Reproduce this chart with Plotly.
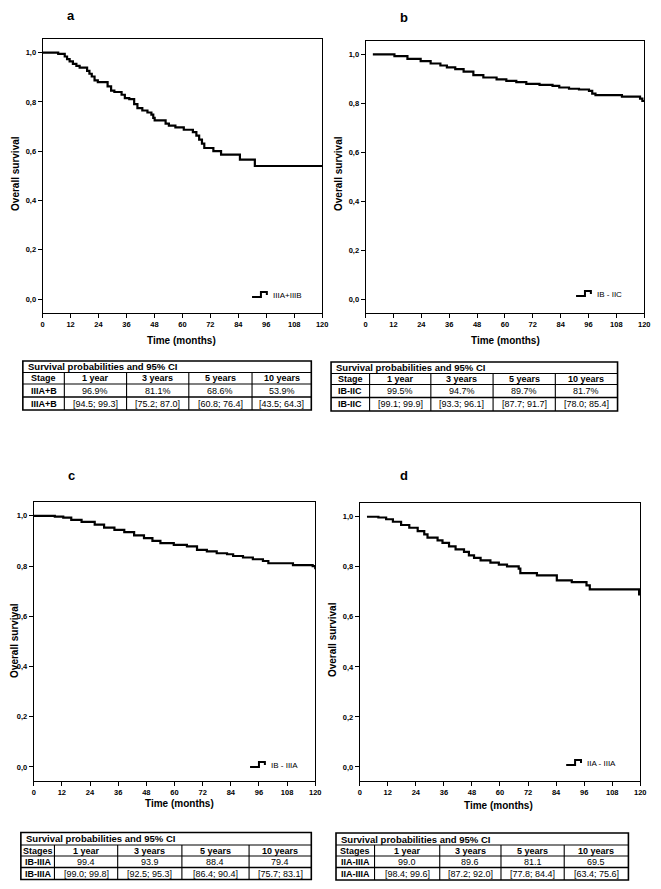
import plotly.graph_objects as go

W, H = 661, 889

# ---------------- data ----------------
months_a = [0, 6.7, 9.5, 10.5, 11.6, 13.0, 14.5, 15.9, 19.1, 20.1, 21.1, 22.3, 23.7, 27.9, 29.4, 30.8,
            33.9, 35.3, 37.2, 39.3, 40.7, 42.8, 45.0, 46.7, 47.5, 48.1, 52.8, 54.2, 57.0, 60.6, 64.5,
            66.0, 67.2, 68.4, 69.4, 73.3, 76.6, 84.7, 91.1, 120]
surv_a = [1.0, 0.995, 0.984, 0.973, 0.964, 0.954, 0.946, 0.939, 0.926, 0.914, 0.903, 0.887, 0.880,
          0.863, 0.846, 0.840, 0.829, 0.815, 0.811, 0.791, 0.775, 0.765, 0.757, 0.748, 0.735, 0.725,
          0.712, 0.704, 0.697, 0.687, 0.677, 0.663, 0.647, 0.631, 0.613, 0.600, 0.586, 0.566, 0.540, 0.540]

months_b = [3.1, 7.4, 12.4, 18.0, 23.7, 28.0, 32.2, 35.0, 38.6, 42.2, 46.4, 50.7, 56.4, 60.6, 64.9,
            69.2, 74.9, 80.5, 83.4, 87.6, 91.9, 96.2, 97.6, 99.0, 110.4, 118.2, 119.2, 120]
surv_b = [1.0, 1.0, 0.993, 0.982, 0.973, 0.963, 0.955, 0.947, 0.940, 0.930, 0.916, 0.906, 0.898, 0.892,
          0.887, 0.880, 0.876, 0.872, 0.865, 0.860, 0.857, 0.851, 0.840, 0.834, 0.828, 0.820, 0.810, 0.810]

months_c = [0, 5, 9, 12.6, 16, 20.4, 26, 30, 34.4, 38.6, 42.8, 47, 50.6, 54, 59.7, 65.3, 69.6, 73.8,
            78, 82.4, 85, 89.2, 93.4, 97.7, 100, 110.5, 118.9, 120]
surv_c = [1.0, 1.0, 0.997, 0.993, 0.984, 0.976, 0.965, 0.953, 0.944, 0.935, 0.922, 0.911, 0.900, 0.891,
          0.884, 0.878, 0.864, 0.858, 0.851, 0.847, 0.840, 0.834, 0.827, 0.820, 0.811, 0.804, 0.800, 0.787]

months_d = [3.1, 8, 11.3, 14.2, 17.7, 21.2, 24.8, 27.6, 29, 33.3, 35.4, 38.2, 41, 44.6, 46.7, 48.9,
            51.7, 55.9, 59.5, 63, 68, 68.7, 75.8, 84.3, 90.7, 97, 98.4, 119.5, 120]
surv_d = [1.0, 0.997, 0.99, 0.98, 0.967, 0.956, 0.943, 0.930, 0.917, 0.906, 0.896, 0.882, 0.870, 0.860,
          0.846, 0.836, 0.826, 0.817, 0.809, 0.802, 0.793, 0.775, 0.766, 0.746, 0.739, 0.726, 0.710,
          0.690, 0.690]

x_tick_vals = [0, 12, 24, 36, 48, 60, 72, 84, 96, 108, 120]
x_tick_text = ["0", "12", "24", "36", "48", "60", "72", "84", "96", "108", "120"]
y_tick_vals = [0.0, 0.2, 0.4, 0.6, 0.8, 1.0]
y_tick_text = ["0,0", "0,2", "0,4", "0,6", "0,8", "1,0"]

panel_letters = ["a", "b", "c", "d"]
legend_labels = ["IIIA+IIIB", "IB - IIC", "IB - IIIA", "IIA - IIIA"]
y_title = "Overall survival"
x_title = "Time (months)"

table_title = "Survival probabilities and 95% CI"
table_header_ab = ["Stage", "1 year", "3 years", "5 years", "10 years"]
table_header_cd = ["Stages", "1 year", "3 years", "5 years", "10 years"]
table_rows_a = [["IIIA+B", "96.9%", "81.1%", "68.6%", "53.9%"],
                ["IIIA+B", "[94.5; 99.3]", "[75.2; 87.0]", "[60.8; 76.4]", "[43.5; 64.3]"]]
table_rows_b = [["IB-IIC", "99.5%", "94.7%", "89.7%", "81.7%"],
                ["IB-IIC", "[99.1; 99.9]", "[93.3; 96.1]", "[87.7; 91.7]", "[78.0; 85.4]"]]
table_rows_c = [["IB-IIIA", "99.4", "93.9", "88.4", "79.4"],
                ["IB-IIIA", "[99.0; 99.8]", "[92.5; 95.3]", "[86.4; 90.4]", "[75.7; 83.1]"]]
table_rows_d = [["IIA-IIIA", "99.0", "89.6", "81.1", "69.5"],
                ["IIA-IIIA", "[98.4; 99.6]", "[87.2; 92.0]", "[77.8; 84.4]", "[63.4; 75.6]"]]

# ---------------- layout helpers (pixel positions on the page) ----------------
OFF = 8  # default body margin of the page


def X(p):
    return (p - OFF) / W


def Y(p):
    return 1 - (p - OFF) / H


FONT = "Liberation Sans, Arial, sans-serif"

panels = [
    dict(months=months_a, surv=surv_a, box=(41, 324, 39, 313), letter=(70, 16),
         ytit=(13, 173), xtit=(182, 340), leg=(253, 297),
         table=table_rows_a, header=table_header_ab,
         tx=[21, 63, 126, 189, 253, 313], ty=[361, 372.5, 384, 397, 410]),
    dict(months=months_b, surv=surv_b, box=(368, 650, 41, 313), letter=(407, 17),
         ytit=(340, 173), xtit=(510, 340), leg=(581, 296),
         table=table_rows_b, header=table_header_ab,
         tx=[333, 372, 434, 497, 560, 623], ty=[362, 373.5, 384.5, 397.5, 411]),
    dict(months=months_c, surv=surv_c, box=(32, 317, 502, 781), letter=(70, 475),
         ytit=(12, 640), xtit=(180, 803), leg=(251, 767),
         table=table_rows_c, header=table_header_cd,
         tx=[19, 53, 117, 182, 250, 313], ty=[832.5, 845, 856, 867.5, 879.5]),
    dict(months=months_d, surv=surv_d, box=(362, 646, 503, 781), letter=(407, 475),
         ytit=(334, 640), xtit=(502, 805), leg=(571, 765),
         table=table_rows_d, header=table_header_cd,
         tx=[338, 377, 443, 505, 569, 634], ty=[833, 845, 856, 867.5, 880]),
]

fig = go.Figure()
annotations = []
shapes = []

for i, p in enumerate(panels):
    n = "" if i == 0 else str(i + 1)
    fig.add_trace(go.Scatter(
        x=p["months"], y=p["surv"], mode="lines", line_shape="hv",
        line=dict(color="black", width=2.2), xaxis="x" + n, yaxis="y" + n,
        showlegend=False, hoverinfo="skip"))
    x0, x1, y0, y1 = p["box"]
    axis_common = dict(showline=True, mirror=True, linecolor="black", linewidth=1,
                       ticks="outside", ticklen=4, tickwidth=1, tickcolor="black",
                       showgrid=False, zeroline=False,
                       tickfont=dict(family=FONT, size=7.5, color="black", weight="bold"))
    fig.update_layout(**{
        "xaxis" + n: dict(domain=[X(x0), X(x1)], range=[0, 120], tickvals=x_tick_vals,
                          ticktext=x_tick_text, anchor="y" + n, **axis_common),
        "yaxis" + n: dict(domain=[Y(y1), Y(y0)], range=[-0.056, 1.055], tickvals=y_tick_vals,
                          ticktext=y_tick_text, anchor="x" + n, **axis_common),
    })
    # panel letter
    lx, ly = p["letter"]
    annotations.append(dict(x=X(lx), y=Y(ly), xref="paper", yref="paper", text=panel_letters[i],
                            showarrow=False, xanchor="center", yanchor="middle", borderpad=0,
                            font=dict(family=FONT, size=13, color="black", weight="bold")))
    # axis titles
    tx_, ty_ = p["ytit"]
    annotations.append(dict(x=X(tx_), y=Y(ty_), xref="paper", yref="paper", text=y_title,
                            textangle=-90, showarrow=False, xanchor="center", yanchor="middle",
                            font=dict(family=FONT, size=10, color="black", weight="bold")))
    tx_, ty_ = p["xtit"]
    annotations.append(dict(x=X(tx_), y=Y(ty_), xref="paper", yref="paper", text=x_title,
                            showarrow=False, xanchor="center", yanchor="middle",
                            font=dict(family=FONT, size=10, color="black", weight="bold")))
    # legend glyph + label
    gx, gy = p["leg"]
    pts = [(gx, gy), (gx + 9, gy), (gx + 9, gy - 5), (gx + 15, gy - 5), (gx + 15, gy - 2)]
    path = "M " + " L ".join(f"{X(a):.5f},{Y(b):.5f}" for a, b in pts)
    shapes.append(dict(type="path", path=path, xref="paper", yref="paper",
                       line=dict(color="black", width=2)))
    annotations.append(dict(x=X(gx + 19), y=Y(gy - 2), xref="paper", yref="paper",
                            text=legend_labels[i], showarrow=False, xanchor="left", yanchor="middle",
                            font=dict(family=FONT, size=8, color="black")))
    # table
    txs, tys = p["tx"], p["ty"]
    shapes.append(dict(type="rect", xref="paper", yref="paper", x0=X(txs[0]), x1=X(txs[-1]),
                       y0=Y(tys[-1]), y1=Y(tys[0]), line=dict(color="black", width=1.6)))
    for k, yy in enumerate(tys[1:-1]):
        shapes.append(dict(type="line", xref="paper", yref="paper", x0=X(txs[0]), x1=X(txs[-1]),
                           y0=Y(yy), y1=Y(yy), line=dict(color="black", width=1.6 if k == 2 else 1.1)))
    for xx in txs[1:-1]:
        shapes.append(dict(type="line", xref="paper", yref="paper", x0=X(xx), x1=X(xx),
                           y0=Y(tys[1]), y1=Y(tys[-1]), line=dict(color="black", width=1.1)))
    annotations.append(dict(x=X(txs[0] + 3), y=Y((tys[0] + tys[1]) / 2), xref="paper", yref="paper",
                            text=table_title, showarrow=False, xanchor="left", yanchor="middle",
                            font=dict(family=FONT, size=9.5, color="black", weight="bold")))
    rows = [p["header"]] + p["table"]
    for r, row in enumerate(rows):
        yc = (tys[r + 1] + tys[r + 2]) / 2
        for c, val in enumerate(row):
            xc = (txs[c] + txs[c + 1]) / 2
            bold = (r == 0) or (c == 0)
            annotations.append(dict(x=X(xc), y=Y(yc), xref="paper", yref="paper", text=val,
                                    showarrow=False, xanchor="center", yanchor="middle",
                                    font=dict(family=FONT, size=9, color="black",
                                              weight="bold" if bold else "normal")))

fig.update_layout(width=W, height=H, margin=dict(l=0, r=0, t=0, b=0),
                  paper_bgcolor="white", plot_bgcolor="white", showlegend=False,
                  annotations=annotations, shapes=shapes)

fig.write_html("out.html")
